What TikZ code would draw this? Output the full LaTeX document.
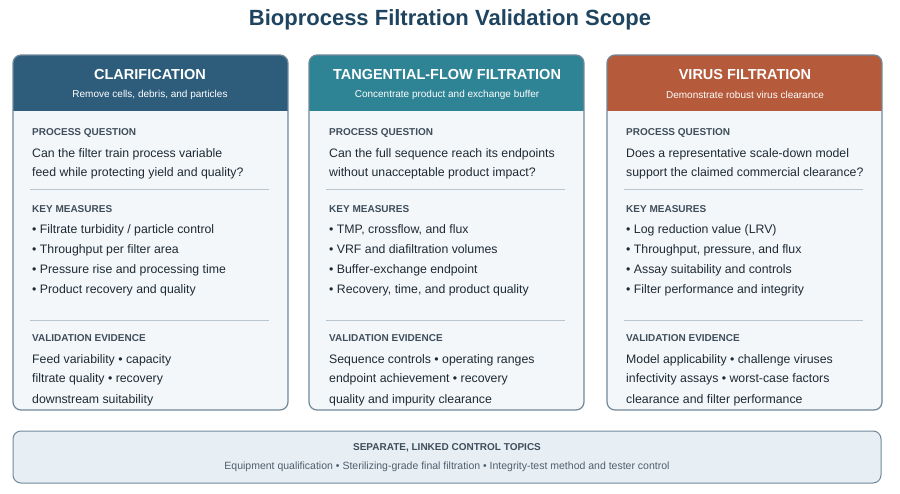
\documentclass[tikz,border=0pt]{standalone}
\usepackage{fontspec}
\setmainfont{Liberation Sans}
\usetikzlibrary{positioning}
\definecolor{titleblue}{HTML}{1F4460}
\definecolor{clarblue}{HTML}{2E5D7C}
\definecolor{tffteal}{HTML}{2E8394}
\definecolor{virusred}{HTML}{B55A3A}
\definecolor{cardfill}{HTML}{F4F7FA}
\definecolor{cardline}{HTML}{71889A}
\definecolor{headgray}{HTML}{3E4E5B}
\definecolor{bodytext}{HTML}{1E2A33}
\definecolor{sepline}{HTML}{B8C4CE}
\definecolor{linkfill}{HTML}{E7EEF4}
\tikzstyle{heading} = [anchor=base west, inner sep=0pt, font=\fontsize{10}{12}\selectfont\bfseries, text=headgray]
\tikzstyle{line} = [anchor=base west, inner sep=0pt, font=\fontsize{12.3}{14}\selectfont, text=bodytext]

\begin{document}
\begin{tikzpicture}[x=1pt,y=-1pt]
        \useasboundingbox (0,0) rectangle (900,494);
        \tikzstyle{hdtitle} = [inner sep=0pt, font=\fontsize{14.5}{16}\selectfont\bfseries, text=white]
        \tikzstyle{hdsub} = [inner sep=0pt, font=\fontsize{10}{12}\selectfont, text=white]

        \node[font=\fontsize{22}{26}\selectfont\bfseries, text=titleblue] (title) at (450,20) {Bioprocess Filtration Validation Scope};

        % three cards
        \foreach \x/\col in {13/clarblue, 309/tffteal, 607/virusred}{
            \fill[cardfill, rounded corners=8pt] (\x,55) rectangle (\x+275,410);
            \begin{scope}
                \clip[rounded corners=8pt] (\x,55) rectangle (\x+275,410);
                \fill[\col] (\x,55) rectangle (\x+275,111);
            \end{scope}
            \draw[cardline, line width=1.2pt, rounded corners=8pt] (\x,55) rectangle (\x+275,410);
            \draw[sepline, line width=0.8pt] (\x+17,189) -- (\x+256,189);
            \draw[sepline, line width=0.8pt] (\x+17,320) -- (\x+256,320);
        }

        % clarification
        \node[hdtitle] (t1) at (150,75) {CLARIFICATION};
        \node[hdsub] (s1) at (150,95) {Remove cells, debris, and particles};
        \node[heading] (q1) at (32,136) {PROCESS QUESTION};
        \node[line] (q1a) at (32,158) {Can the filter train process variable};
        \node[line] (q1b) at (32,177) {feed while protecting yield and quality?};
        \node[heading] (m1) at (32,213) {KEY MEASURES};
        \node[line] (m1a) at (32,234) {• Filtrate turbidity / particle control};
        \node[line] (m1b) at (32,254) {• Throughput per filter area};
        \node[line] (m1c) at (32,274) {• Pressure rise and processing time};
        \node[line] (m1d) at (32,294) {• Product recovery and quality};
        \node[heading] (e1) at (32,342) {VALIDATION EVIDENCE};
        \node[line] (e1a) at (32,363) {Feed variability • capacity};
        \node[line] (e1b) at (32,383) {filtrate quality • recovery};
        \node[line] (e1c) at (32,403) {downstream suitability};

        % tangential flow
        \node[hdtitle] (t2) at (447,75) {TANGENTIAL-FLOW FILTRATION};
        \node[hdsub] (s2) at (447,95) {Concentrate product and exchange buffer};
        \node[heading] (q2) at (329,136) {PROCESS QUESTION};
        \node[line] (q2a) at (329,158) {Can the full sequence reach its endpoints};
        \node[line] (q2b) at (329,177) {without unacceptable product impact?};
        \node[heading] (m2) at (329,213) {KEY MEASURES};
        \node[line] (m2a) at (329,234) {• TMP, crossflow, and flux};
        \node[line] (m2b) at (329,254) {• VRF and diafiltration volumes};
        \node[line] (m2c) at (329,274) {• Buffer-exchange endpoint};
        \node[line] (m2d) at (329,294) {• Recovery, time, and product quality};
        \node[heading] (e2) at (329,342) {VALIDATION EVIDENCE};
        \node[line] (e2a) at (329,363) {Sequence controls • operating ranges};
        \node[line] (e2b) at (329,383) {endpoint achievement • recovery};
        \node[line] (e2c) at (329,403) {quality and impurity clearance};

        % virus filtration
        \node[hdtitle] (t3) at (745,75) {VIRUS FILTRATION};
        \node[hdsub] (s3) at (745,95) {Demonstrate robust virus clearance};
        \node[heading] (q3) at (626,136) {PROCESS QUESTION};
        \node[line] (q3a) at (626,158) {Does a representative scale-down model};
        \node[line] (q3b) at (626,177) {support the claimed commercial clearance?};
        \node[heading] (m3) at (626,213) {KEY MEASURES};
        \node[line] (m3a) at (626,234) {• Log reduction value (LRV)};
        \node[line] (m3b) at (626,254) {• Throughput, pressure, and flux};
        \node[line] (m3c) at (626,274) {• Assay suitability and controls};
        \node[line] (m3d) at (626,294) {• Filter performance and integrity};
        \node[heading] (e3) at (626,342) {VALIDATION EVIDENCE};
        \node[line] (e3a) at (626,363) {Model applicability • challenge viruses};
        \node[line] (e3b) at (626,383) {infectivity assays • worst-case factors};
        \node[line] (e3c) at (626,403) {clearance and filter performance};

        % linked topics
        \draw[cardline, fill=linkfill, line width=1pt, rounded corners=8pt] (13,431) rectangle (881,483);
        \node[font=\fontsize{10}{12}\selectfont\bfseries, text=headgray] (lk) at (447,448) {SEPARATE, LINKED CONTROL TOPICS};
        \node[font=\fontsize{10.5}{12}\selectfont, text=cardline!70!black] (lkt) at (447,467) {Equipment qualification • Sterilizing-grade final filtration • Integrity-test method and tester control};
\end{tikzpicture}
\end{document}
